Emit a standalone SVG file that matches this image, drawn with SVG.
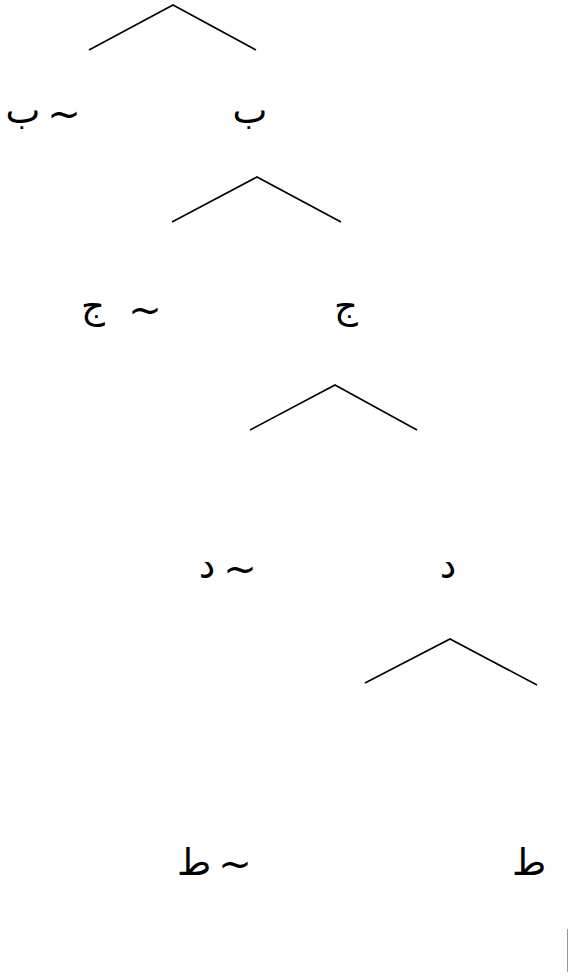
<svg xmlns="http://www.w3.org/2000/svg" width="568" height="976" viewBox="0 0 568 976">
<style>
.lbl{font-family:"DejaVu Sans","Noto Sans",sans-serif;font-size:37px;fill:#000;text-anchor:middle}
.tl{font-size:40px}
.edge{stroke:#000;stroke-width:1.6;fill:none;stroke-linecap:butt}
</style>
<rect x="0" y="0" width="568" height="976" fill="#fff"/>
<g id="connectors">
<polyline class="edge" points="89,50 173,5 256,50"/>
<polyline class="edge" points="172,222 257,177 341,222"/>
<polyline class="edge" points="250,430 335,385 417,430"/>
<polyline class="edge" points="365,683 450,639 537,685"/>
</g>
<g id="node-not-b"><text class="lbl"><tspan x="23" y="123">ب</tspan><tspan class="tl" x="64" y="128">~</tspan></text></g>
<g id="node-b"><text class="lbl" x="250" y="123">ب</text></g>
<g id="node-not-j"><text class="lbl"><tspan x="93" y="318">ج</tspan><tspan class="tl" x="145" y="324">~</tspan></text></g>
<g id="node-j"><text class="lbl" x="346" y="318">ج</text></g>
<g id="node-not-d"><text class="lbl"><tspan x="207" y="578">د</tspan><tspan class="tl" x="240" y="583">~</tspan></text></g>
<g id="node-d"><text class="lbl" x="448" y="578">د</text></g>
<g id="node-not-t"><text class="lbl"><tspan x="194" y="875">ط</tspan><tspan class="tl" x="235" y="878">~</tspan></text></g>
<g id="node-t"><text class="lbl" x="529" y="875">ط</text></g>
<line x1="567.5" y1="929" x2="567.5" y2="972" stroke="#999" stroke-width="1"/>
</svg>
